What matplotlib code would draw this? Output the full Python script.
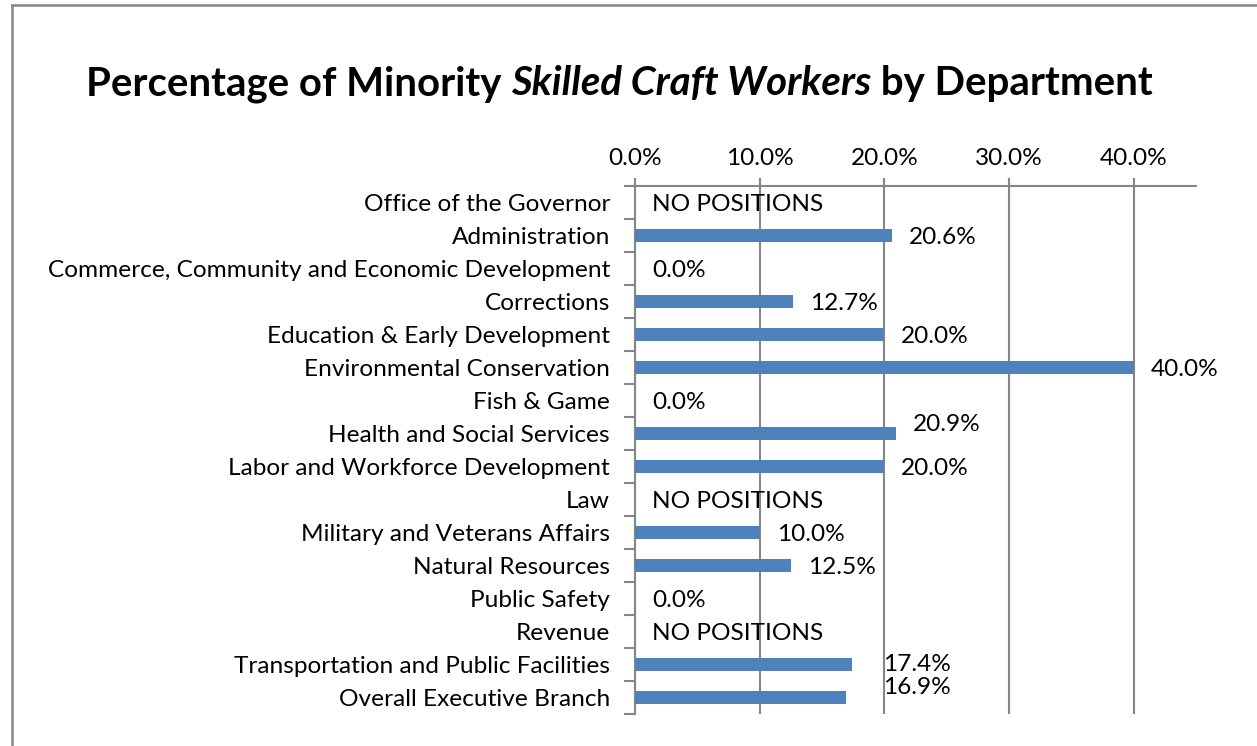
import numpy as np
import matplotlib
matplotlib.use("Agg")
import matplotlib.pyplot as plt
from matplotlib.ticker import FixedLocator, FuncFormatter
from matplotlib.lines import Line2D

departments = [
    "Office of the Governor",
    "Administration",
    "Commerce, Community and Economic Development",
    "Corrections",
    "Education & Early Development",
    "Environmental Conservation",
    "Fish & Game",
    "Health and Social Services",
    "Labor and Workforce Development",
    "Law",
    "Military and Veterans Affairs",
    "Natural Resources",
    "Public Safety",
    "Revenue",
    "Transportation and Public Facilities",
    "Overall Executive Branch",
]
# percent of minority skilled craft workers; nan = department has no positions
minority_pct = [np.nan, 20.6, 0.0, 12.7, 20.0, 40.0, 0.0, 20.9, 20.0,
                np.nan, 10.0, 12.5, 0.0, np.nan, 17.4, 16.9]
x_ticks = [0, 10, 20, 30, 40]
x_max = 45
no_data_text = "NO POSITIONS"

# label nudges in pixels (dx, dy) for a few crowded labels
label_nudge = {7: (17, 9), 14: (31, 0), 15: (37, 10)}

FONT = "Lato"
FS = 17.6
BAR = "#4F81BD"
GRID = "#868686"

fig = plt.figure(figsize=(12.57, 7.46), dpi=100)
ax = fig.add_axes([635 / 1257, 1 - 714 / 746, (1196 - 635) / 1257, (714 - 186) / 746])

y = np.arange(len(departments))
vals = np.nan_to_num(np.array(minority_pct, dtype=float))
ax.barh(y, vals, height=0.4, color=BAR, linewidth=0, zorder=3)

ax.set_xlim(0, x_max)
ax.set_ylim(len(departments) - 0.5, -0.5)

ax.xaxis.tick_top()
ax.xaxis.set_major_locator(FixedLocator(x_ticks))
ax.xaxis.set_major_formatter(FuncFormatter(lambda v, p: f"{v:.1f}%"))
ax.tick_params(axis="x", length=6, width=1.5, color=GRID, pad=6,
               labelsize=FS, labelcolor="black")
ax.set_yticks(y)
ax.set_yticklabels(departments)
ax.set_yticks(np.arange(len(departments) + 1) - 0.5, minor=True)
ax.tick_params(axis="y", which="major", length=0, pad=18, labelsize=FS, labelcolor="black")
ax.tick_params(axis="y", which="minor", length=8, width=1.5, color=GRID)
for lbl in ax.get_xticklabels() + ax.get_yticklabels():
    lbl.set_fontfamily(FONT)

ax.grid(axis="x", color=GRID, linewidth=1.5, zorder=1)
for side in ("right", "bottom"):
    ax.spines[side].set_visible(False)
for side in ("top", "left"):
    ax.spines[side].set_color(GRID)
    ax.spines[side].set_linewidth(1.5)

for i, v in enumerate(minority_pct):
    if np.isnan(v):
        text, xv = no_data_text, 0.0
    else:
        text, xv = f"{v:.1f}%", v
    dx, dy = label_nudge.get(i, (17, -2))
    ax.annotate(text, (xv, i), xytext=(dx, dy), textcoords="offset pixels",
                ha="left", va="center", fontsize=FS, fontfamily=FONT,
                color="black", zorder=4)

# title with an italic middle segment
title_parts = [("Percentage of Minority ", "normal"),
               ("Skilled Craft Workers", "italic"),
               (" by Department", "normal")]
fig.canvas.draw()
renderer = fig.canvas.get_renderer()
texts = []
for s, style in title_parts:
    t = fig.text(0, 1 - 84 / 746, s, fontsize=28.9, fontweight="bold",
                 fontstyle=style, fontfamily=FONT, va="center", ha="left")
    texts.append(t)
widths = [t.get_window_extent(renderer).width for t in texts]
x0 = 619.5 - sum(widths) / 2
for t, w in zip(texts, widths):
    t.set_x(x0 / 1257)
    x0 += w

# chart frame lines
fig.add_artist(Line2D([12 / 1257, 12 / 1257], [0, 1 - 5 / 746], color="#888888", linewidth=1.8))
fig.add_artist(Line2D([12 / 1257, 1], [1 - 5 / 746, 1 - 5 / 746], color="#888888", linewidth=1.8))

fig.savefig("out.png", dpi=100)
